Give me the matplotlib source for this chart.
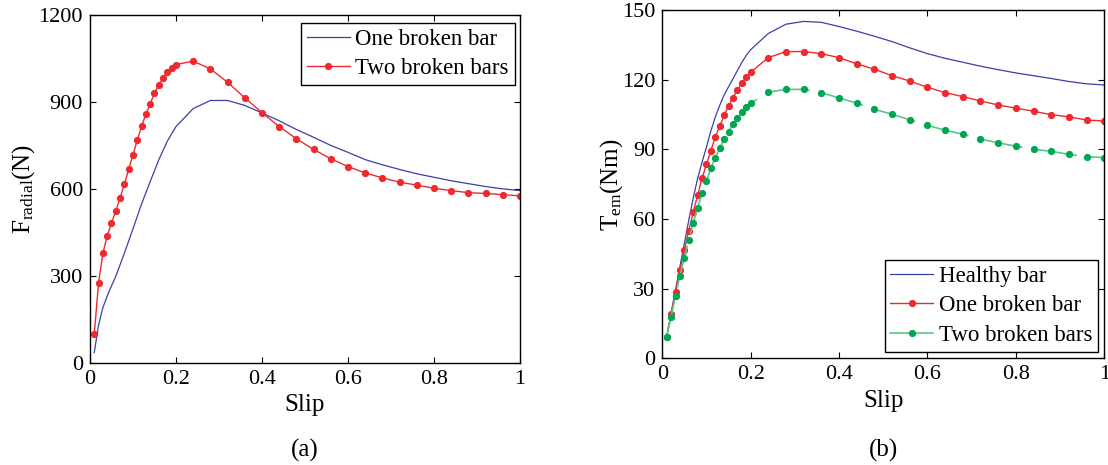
import matplotlib
matplotlib.use("Agg")
import numpy as np
import matplotlib.pyplot as plt
from matplotlib.ticker import FuncFormatter

plt.rcParams['font.family'] = ['Liberation Serif', 'DejaVu Serif']
plt.rcParams['mathtext.fontset'] = 'custom'
plt.rcParams['mathtext.rm'] = 'Liberation Serif'
plt.rcParams['mathtext.it'] = 'Liberation Serif:italic'

# slip grid used by the marked curves
slip = [0.01, 0.02, 0.03, 0.04, 0.05, 0.06, 0.07, 0.08, 0.09, 0.10,
        0.11, 0.12, 0.13, 0.14, 0.15, 0.16, 0.17, 0.18, 0.19, 0.20,
        0.24, 0.28, 0.32, 0.36, 0.40, 0.44, 0.48, 0.52, 0.56, 0.60,
        0.64, 0.68, 0.72, 0.76, 0.80, 0.84, 0.88, 0.92, 0.96, 1.00]

# (a) radial force
slip_a_one = [0.01, 0.02, 0.03, 0.04, 0.05, 0.06, 0.08, 0.10, 0.12, 0.14,
              0.16, 0.18, 0.20, 0.24, 0.28, 0.32, 0.36, 0.40, 0.44, 0.48,
              0.52, 0.56, 0.60, 0.64, 0.68, 0.72, 0.76, 0.80, 0.84, 0.88,
              0.92, 0.96, 1.00]
f_one_broken = [35, 130, 190, 230, 265, 298, 378, 462, 548, 625,
                700, 765, 815, 877, 905, 905, 888, 862, 835, 805,
                778, 750, 726, 701, 683, 667, 652, 640, 628, 618,
                608, 600, 594]
f_two_broken = [99, 276, 377, 438, 482, 523, 569, 616, 667, 718,
                768, 816, 858, 894, 930, 959, 982, 1004, 1018, 1029,
                1041, 1014, 968, 914, 863, 815, 773, 736, 704, 677,
                655, 638, 623, 613, 602, 594, 587, 584, 580, 576]

# (b) electromagnetic torque
t_healthy = [9.3, 19.5, 29.5, 39.5, 49.5, 59.5, 69, 77.5, 84.5, 91,
             98, 104, 109, 113.5, 117, 120.5, 124, 127.5, 130.5, 133,
             140, 144, 145.2, 144.8, 143, 141, 138.8, 136.5, 133.8, 131.3,
             129.3, 127.6, 125.9, 124.4, 123, 121.8, 120.6, 119.3, 118.3, 117.8]
t_one_broken = [9.3, 19, 28.7, 38, 46.7, 54.9, 63, 70.3, 77.6, 83.6,
                89.5, 95.3, 100, 104.7, 108.7, 112.3, 115.5, 118.7, 121.1, 123.3,
                129.6, 132.2, 132.2, 131.3, 129.6, 126.9, 124.6, 121.8, 119.5, 116.8,
                114.5, 112.8, 110.9, 109.2, 107.8, 106.5, 105, 104.1, 102.7, 102.3]
t_two_broken = [9.3, 17.9, 27, 35.6, 43.4, 51.1, 58.3, 64.8, 71.1, 76.4,
                81.9, 86.5, 90.5, 94.5, 97.7, 101, 103.7, 106, 108.2, 109.9,
                114.7, 115.9, 115.9, 114.5, 112.2, 110, 107.3, 105.2, 102.8, 100.4,
                98.3, 96.6, 94.5, 92.9, 91.4, 90.1, 89.2, 87.9, 86.9, 86.5]

x_ticks = [0, 0.2, 0.4, 0.6, 0.8, 1]
ya_ticks = [0, 300, 600, 900, 1200]
yb_ticks = [0, 30, 60, 90, 120, 150]

BLUE = '#3a40a8'
RED = '#ee2a30'
GREEN_LINE = '#55c98c'
GREEN = '#00a651'
FS = 16
LEG_FS = 16.5

fig = plt.figure(figsize=(11.08, 4.65), dpi=100)
ax1 = fig.add_axes([0.0812, 0.2200, 0.3881, 0.7477])
ax2 = fig.add_axes([0.5977, 0.2295, 0.3989, 0.7484])

leg_kw = dict(borderaxespad=0, fontsize=LEG_FS, numpoints=1, fancybox=False,
              edgecolor='black', framealpha=1, handlelength=1.85,
              labelspacing=0.36, borderpad=0.26, handletextpad=0.25)

ax1.plot(slip_a_one, f_one_broken, color=BLUE, lw=0.9, label='One broken bar')
ax1.plot(slip, f_two_broken, color=RED, lw=1.0, marker='o', ms=4.2,
         label='Two broken bars')
ax1.set_ylim(0, 1200)
ax1.set_yticks(ya_ticks)
ax1.set_ylabel(r'F$_{\mathrm{radial}}$(N)', fontsize=FS + 2, labelpad=1)
ax1.legend(loc='upper right', bbox_to_anchor=(0.988, 0.977),
           **leg_kw).get_frame().set_linewidth(1.0)

for ax in (ax1, ax2):
    ax.set_xlim(0, 1)
    ax.set_xticks(x_ticks)
    ax.xaxis.set_major_formatter(FuncFormatter(lambda v, p: '%g' % v))
    ax.set_xlabel('Slip', fontsize=FS + 2, labelpad=4)
    ax.tick_params(direction='in', top=True, right=True, length=4,
                   width=0.8, labelsize=FS, pad=5)
    for sp in ax.spines.values():
        sp.set_linewidth(1.0)
ax2.set_ylim(0, 150)

# dash pattern of the green curve: gaps start near slip 0.2145 and 0.938
green_lw = 1.2
pts = ax2.transData.transform(np.column_stack([slip, t_two_broken]))
seg = np.hypot(np.diff(pts[:, 0]), np.diff(pts[:, 1]))
cum = np.concatenate([[0], np.cumsum(seg)])
def path_len(s):
    i = np.searchsorted(slip, s) - 1
    frac = (s - slip[i]) / (slip[i + 1] - slip[i])
    return cum[i] + frac * seg[i]
l1, l2 = path_len(0.2145), path_len(0.938)
period = (l2 - l1) / 6 * 0.72           # px -> pt
gap = 11.7 * 0.72
on = period - gap
offset = (on - l1 * 0.72) % period
green_style = (offset / green_lw, (on / green_lw, gap / green_lw))

ax2.plot(slip, t_healthy, color=BLUE, lw=0.9, label='Healthy bar')
ax2.plot(slip, t_one_broken, color=RED, lw=1.0, marker='o', ms=4.2,
         label='One broken bar')
ax2.plot(slip, t_two_broken, color=GREEN_LINE, lw=green_lw, marker='o',
         ms=4.2, mfc=GREEN, mec=GREEN, linestyle=green_style,
         label='Two broken bars')
ax2.set_yticks(yb_ticks)
ax2.set_ylabel(r'T$_{\mathrm{em}}$(Nm)', fontsize=FS + 2, labelpad=-2)
leg2 = ax2.legend(loc='lower right', bbox_to_anchor=(0.986, 0.019), **leg_kw)
leg2.get_frame().set_linewidth(1.0)
leg2.get_lines()[2].set_linestyle('-')

fig.text(0.2753, 0.032, '(a)', ha='center', va='center', fontsize=FS + 2)
fig.text(0.7970, 0.032, '(b)', ha='center', va='center', fontsize=FS + 2)

fig.savefig('out.png', dpi=100)
